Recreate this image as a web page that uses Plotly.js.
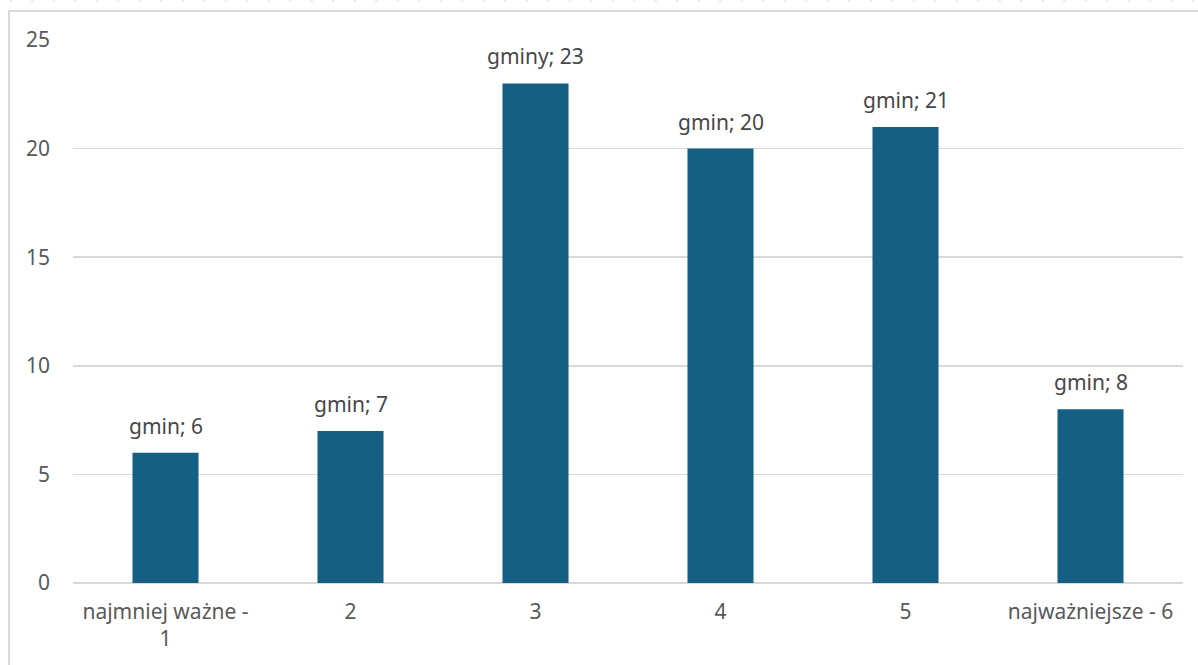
<!DOCTYPE html>
<html>
<head>
<meta charset="utf-8">
<script src="https://cdn.plot.ly/plotly-3.0.1.min.js"></script>
<style>
  html, body { margin: 0; padding: 0; width: 1198px; height: 665px; overflow: hidden; }
  body {
    background-color: #ffffff;
    background-image: radial-gradient(circle, #dce6f2 0.9px, transparent 1.3px);
    background-size: 21.5px 21.5px;
    background-position: 0px -10px;
  }
  #frame { position: absolute; left: 8px; top: 10px; width: 1190px; height: 655px;
           background: #ffffff; border-left: 2px solid #d9d9d9; border-top: 2px solid #d9d9d9; box-sizing: border-box; }
  #chart { position: absolute; left: 0; top: 0; width: 1198px; height: 665px; }
</style>
</head>
<body>
<div id="frame"></div>
<div id="chart"></div>
<script>
const categories = ["najmniej ważne -<br>1", "2", "3", "4", "5", "najważniejsze - 6"];
const values = [6, 7, 23, 20, 21, 8];
const labels = ["gmin; 6", "gmin; 7", "gminy; 23", "gmin; 20", "gmin; 21", "gmin; 8"];
const yTicks = [0, 5, 10, 15, 20, 25];

const fontFamily = "Noto Sans, Open Sans, sans-serif";

const trace = {
  type: "bar",
  x: categories,
  y: values,
  marker: { color: "#156082" },
  hoverinfo: "none"
};

// category axes place annotations by category index
const annotations = categories.map((c, i) => ({
  x: i,
  y: values[i],
  xref: "x",
  yref: "y",
  text: labels[i],
  showarrow: false,
  yanchor: "bottom",
  yshift: 11,
  font: { family: fontFamily, size: 21, color: "#474747" }
}));

const layout = {
  width: 1198,
  height: 665,
  margin: { l: 73, r: 15, t: 40, b: 82 },
  paper_bgcolor: "rgba(0,0,0,0)",
  plot_bgcolor: "rgba(0,0,0,0)",
  bargap: 0.643,
  showlegend: false,
  xaxis: {
    type: "category",
    showgrid: false,
    zeroline: false,
    showline: false,
    ticks: "",
    ticklabelstandoff: 14,
    tickfont: { family: fontFamily, size: 21, color: "#595959" }
  },
  yaxis: {
    range: [0, 25],
    tickvals: yTicks,
    ticktext: yTicks.map(String),
    showgrid: true,
    gridcolor: "#d9d9d9",
    gridwidth: 1.5,
    zeroline: true,
    zerolinecolor: "#d9d9d9",
    zerolinewidth: 1.5,
    showline: false,
    ticks: "",
    ticklabelstandoff: 22,
    tickfont: { family: fontFamily, size: 21, color: "#595959" }
  },
  annotations: annotations
};

Plotly.newPlot("chart", [trace], layout, { displayModeBar: false, staticPlot: true });
</script>
</body>
</html>
